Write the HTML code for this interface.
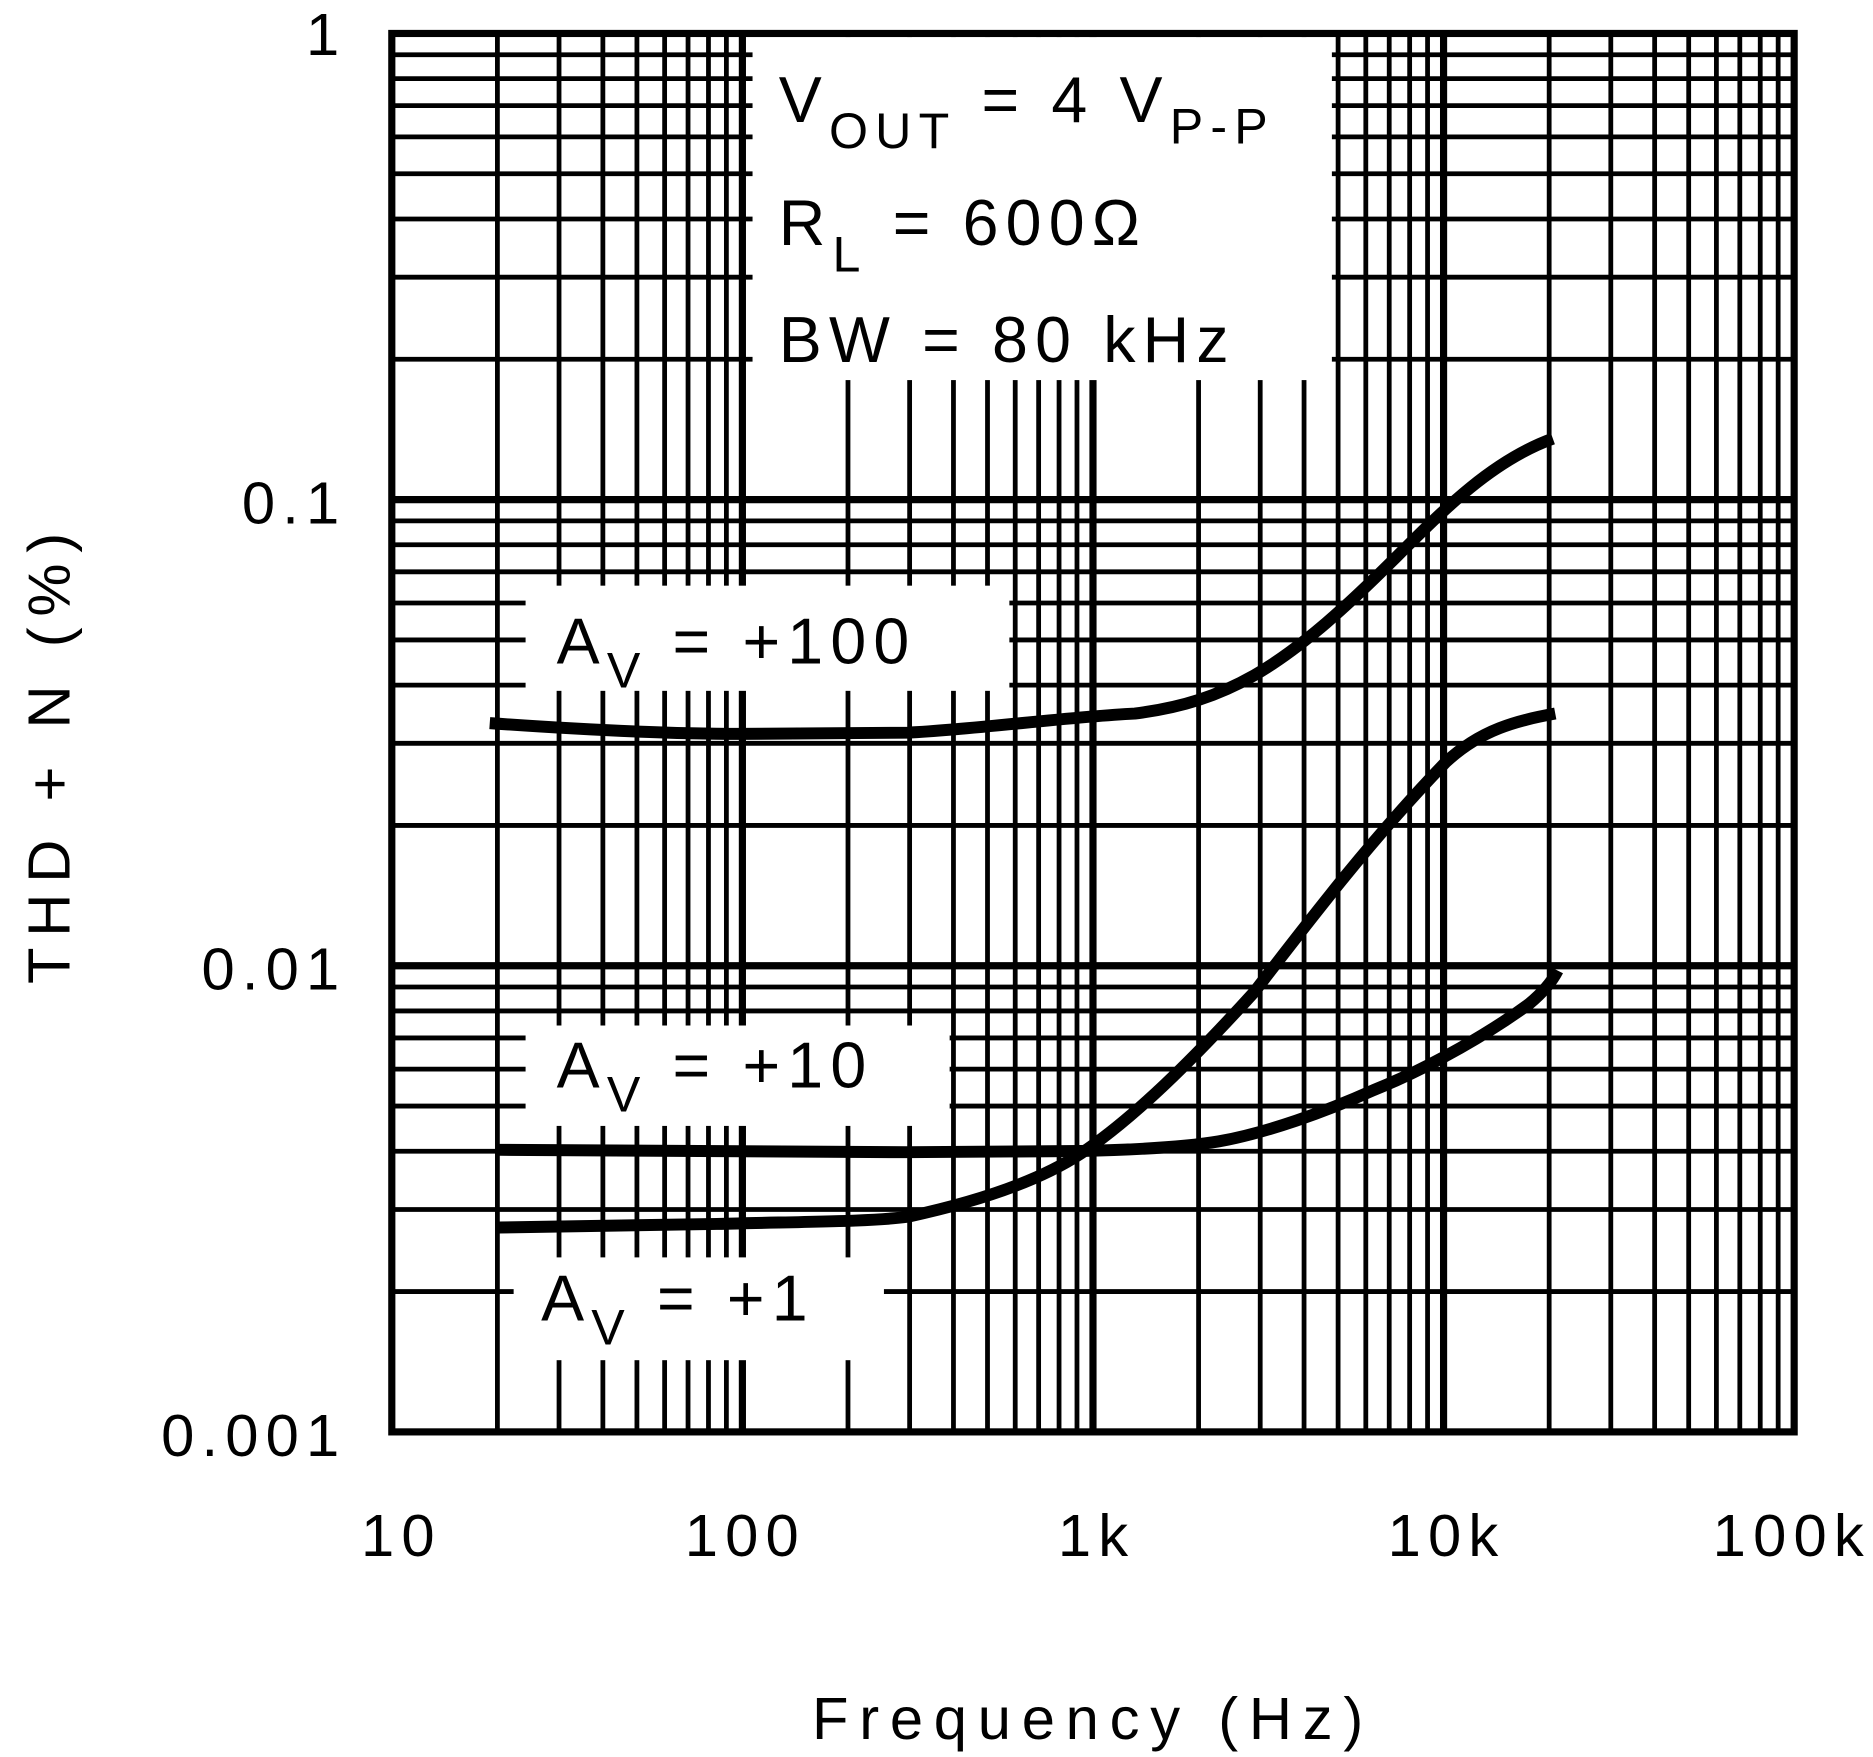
<!DOCTYPE html>
<html><head><meta charset="utf-8"><style>
html,body{margin:0;padding:0;background:#fff;}
svg{display:block;}
text{font-family:"Liberation Sans",sans-serif;fill:#000;}
</style></head><body>
<svg width="1873" height="1757" viewBox="0 0 1568 1470" preserveAspectRatio="none" xmlns="http://www.w3.org/2000/svg">
<rect width="1568" height="1470" fill="#fff"/>
<g stroke="#000" fill="none">
<path stroke-width="4" d="M416.4,28V1198M468,28V1198M504.7,28V1198M533.2,28V1198M556.4,28V1198M576,28V1198M593.1,28V1198M608.1,28V1198
M709.9,28V1198M761.5,28V1198M798.2,28V1198M826.7,28V1198M849.9,28V1198M869.5,28V1198M886.6,28V1198M901.6,28V1198
M1003.4,28V1198M1055,28V1198M1091.7,28V1198M1120.2,28V1198M1143.4,28V1198M1163,28V1198M1180.1,28V1198M1195.1,28V1198
M1296.9,28V1198M1348.5,28V1198M1385.2,28V1198M1413.7,28V1198M1436.9,28V1198M1456.5,28V1198M1473.6,28V1198M1488.6,28V1198
M328,1080.6H1502M328,1011.9H1502M328,963.2H1502M328,925.4H1502M328,894.5H1502M328,868.4H1502M328,845.8H1502M328,825.8H1502
M328,690.6H1502M328,621.9H1502M328,573.2H1502M328,535.4H1502M328,504.5H1502M328,478.4H1502M328,455.8H1502M328,435.8H1502
M328,300.6H1502M328,231.9H1502M328,183.2H1502M328,145.4H1502M328,114.5H1502M328,88.4H1502M328,65.8H1502M328,45.8H1502"/>
<path stroke-width="6" d="M621.5,28V1198M915,28V1198M1208.5,28V1198M328,808H1502M328,418H1502"/>
</g>
<rect x="630" y="31" width="485" height="287" fill="#fff"/>
<rect x="440" y="490" width="405" height="88" fill="#fff"/>
<rect x="440" y="858" width="355" height="84" fill="#fff"/>
<rect x="430" y="1052" width="310" height="86" fill="#fff"/>
<rect x="328" y="28" width="1174" height="1170" fill="none" stroke="#000" stroke-width="6"/>
<g fill="none" stroke="#000" stroke-width="10" stroke-linejoin="round">
<path d="M410,605 C480,610 560,614 620,614 L760,613 C820,610 890,600 950,597 C990,592 1020,582 1050,565 C1090,542 1130,505 1170,465 C1210,425 1250,385 1300,367"/>
<path d="M418,1027 L600,1024 C680,1022 730,1022 760,1018 C820,1005 870,988 905,965 C950,935 1000,885 1050,830 C1100,765 1150,700 1210,638 C1240,610 1270,603 1302,597"/>
<path d="M418,962 L760,964 L905,963 C950,962 990,960 1020,955 C1060,948 1110,930 1150,912 C1200,892 1250,862 1280,840 C1292,830 1300,820 1304,812"/>
</g>
<g font-size="50" letter-spacing="6">
<text x="290" y="46" text-anchor="end">1</text>
<text x="290" y="438" text-anchor="end">0.1</text>
<text x="290" y="828" text-anchor="end">0.01</text>
<text x="290" y="1218" text-anchor="end">0.001</text>
<text x="336" y="1302" text-anchor="middle">10</text>
<text x="624" y="1302" text-anchor="middle">100</text>
<text x="918" y="1302" text-anchor="middle">1k</text>
<text x="1211" y="1302" text-anchor="middle">10k</text>
<text x="1500" y="1302" text-anchor="middle">100k</text>
<text x="915" y="1455" text-anchor="middle" letter-spacing="9">Frequency (Hz)</text>
<text transform="translate(58,630) rotate(-90)" text-anchor="middle" letter-spacing="9">THD + N (%)</text>
</g>
<g font-size="54" letter-spacing="6">
<text x="652" y="102">V<tspan font-size="42" dy="22">OUT</tspan><tspan dy="-22">  =  4 V</tspan><tspan font-size="42" dy="18">P-P</tspan></text>
<text x="652" y="205">R<tspan font-size="42" dy="22">L</tspan><tspan dy="-22">  =  600Ω</tspan></text>
<text x="652" y="303">BW  =  80 kHz</text>
<text x="466" y="555">A<tspan font-size="42" dy="20">V</tspan><tspan dy="-20">  =  +100</tspan></text>
<text x="466" y="910">A<tspan font-size="42" dy="20">V</tspan><tspan dy="-20">  =  +10</tspan></text>
<text x="453" y="1105">A<tspan font-size="42" dy="20">V</tspan><tspan dy="-20">  =  +1</tspan></text>
</g>
</svg>
</body></html>
